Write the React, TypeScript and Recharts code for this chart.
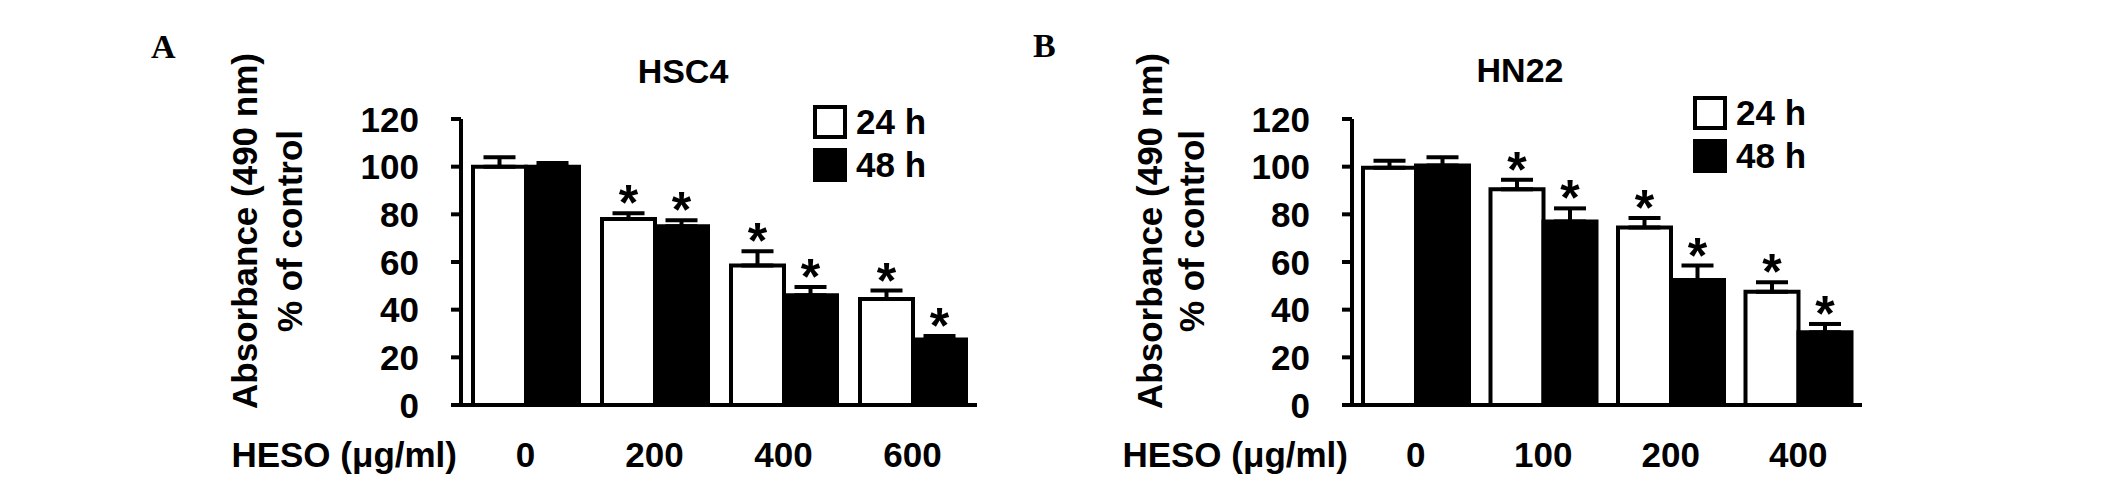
import React from 'react';
import { BarChart, Bar, XAxis, YAxis, ErrorBar, LabelList, Legend } from 'recharts';

const FONT = '"Liberation Sans", Arial, sans-serif';
const SERIF = '"Liberation Serif", "Times New Roman", serif';

// shared y axis ticks
const yTicks = [0, 20, 40, 60, 80, 100, 120];

// Panel A: HSC4
const hsc4Doses = ['0', '200', '400', '600'];
const hsc4H24 = [100, 78, 58.5, 44.5];
const hsc4H24Err = [4, 2.5, 6, 3.5];
const hsc4H48 = [100, 75, 46, 27.5];
const hsc4H48Err = [1.5, 2.5, 3.5, 1.5];
const hsc4Sig24 = [false, true, true, true];
const hsc4Sig48 = [false, true, true, true];

// Panel B: HN22
const hn22Doses = ['0', '100', '200', '400'];
const hn22H24 = [99.5, 90.5, 74.5, 47.5];
const hn22H24Err = [3, 4, 4, 4];
const hn22H48 = [100.5, 77, 52.5, 30.5];
const hn22H48Err = [3.5, 5.5, 6, 3.5];
const hn22Sig24 = [false, true, true, true];
const hn22Sig48 = [false, true, true, true];

const seriesNames = ['24 h', '48 h'];

function buildRows(doses: string[], h24: number[], e24: number[], h48: number[], e48: number[]) {
  return doses.map((d, i) => ({
    dose: d,
    h24: h24[i],
    e24: [0, e24[i]],
    h48: h48[i],
    e48: [0, e48[i]],
  }));
}

const rowsA = buildRows(hsc4Doses, hsc4H24, hsc4H24Err, hsc4H48, hsc4H48Err);
const rowsB = buildRows(hn22Doses, hn22H24, hn22H24Err, hn22H48, hn22H48Err);

const makeStar = (errs: number[], sig: boolean[]) => (props: any) => {
  const vb = props.viewBox || props;
  const x = Number(vb.x ?? props.x);
  const y = Number(vb.y ?? props.y);
  const width = Number(vb.width ?? props.width);
  const height = Number(vb.height ?? props.height);
  const index = props.index;
  const value = Number(props.value);
  if (!sig[index] || !value) return null;
  const ppu = Math.abs(height) / value;
  const top = Math.min(y, y + height) - errs[index] * ppu;
  return (
    <text
      x={x + width / 2}
      y={top + 7}
      textAnchor="middle"
      fontFamily={FONT}
      fontWeight="bold"
      fontSize={50}
      fill="#000"
    >
      *
    </text>
  );
};

const YTick = (p: any) => (
  <text
    x={Number(p.x) - 32}
    y={Number(p.y) + 12.5}
    textAnchor="end"
    fontFamily={FONT}
    fontWeight="bold"
    fontSize={35}
    fill="#000"
  >
    {p.payload.value}
  </text>
);

const XTick = (p: any) => (
  <text
    x={Number(p.x)}
    y={Number(p.y) + 62}
    textAnchor="middle"
    fontFamily={FONT}
    fontWeight="bold"
    fontSize={35}
    fill="#000"
  >
    {p.payload.value}
  </text>
);

const renderLegend = (props: any) => {
  const payload = props.payload || [];
  return (
    <div style={{ fontFamily: FONT, fontWeight: 'bold', fontSize: 35, color: '#000' }}>
      {payload.map((it: any) => (
        <div key={it.value} style={{ display: 'flex', alignItems: 'center', height: 43 }}>
          <div
            style={{
              width: 34,
              height: 34,
              boxSizing: 'border-box',
              border: '4px solid #000',
              background: it.color,
            }}
          />
          <span style={{ marginLeft: 9, lineHeight: '43px' }}>{it.value}</span>
        </div>
      ))}
    </div>
  );
};

type PanelProps = {
  rows: any[];
  width: number;
  margin: { top: number; right: number; bottom: number; left: number };
  e24: number[];
  e48: number[];
  s24: boolean[];
  s48: boolean[];
  legendPos: { left: number; top: number };
};

const Panel = ({ rows, width, margin, e24, e48, s24, s48, legendPos }: PanelProps) => (
  <BarChart width={width} height={503} data={rows} margin={margin} barGap={0} barSize={53}>
    <XAxis
      dataKey="dose"
      height={60}
      tickSize={0}
      tickMargin={0}
      tickLine={false}
      axisLine={{ stroke: '#000', strokeWidth: 4 }}
      tick={<XTick />}
      interval={0}
    />
    <YAxis
      width={100}
      domain={[0, 120]}
      ticks={yTicks}
      interval={0}
      tickSize={10}
      tickMargin={0}
      axisLine={{ stroke: '#000', strokeWidth: 4 }}
      tickLine={{ stroke: '#000', strokeWidth: 4 }}
      tick={<YTick />}
    />
    <Legend
      layout="vertical"
      align="center"
      verticalAlign="middle"
      wrapperStyle={{ left: legendPos.left, top: legendPos.top, width: 'auto', height: 'auto' }}
      content={renderLegend}
    />
    <Bar dataKey="h24" name={seriesNames[0]} fill="#ffffff" stroke="#000" strokeWidth={4} isAnimationActive={false}>
      <ErrorBar dataKey="e24" width={16} strokeWidth={4} stroke="#000" direction="y" isAnimationActive={false} />
      <LabelList dataKey="h24" content={makeStar(e24, s24)} />
    </Bar>
    <Bar dataKey="h48" name={seriesNames[1]} fill="#000000" stroke="#000" strokeWidth={4} isAnimationActive={false}>
      <ErrorBar dataKey="e48" width={16} strokeWidth={4} stroke="#000" direction="y" isAnimationActive={false} />
      <LabelList dataKey="h48" content={makeStar(e48, s48)} />
    </Bar>
  </BarChart>
);

const textBold = { fontFamily: FONT, fontWeight: 'bold' as const, fill: '#000' };

export default function App() {
  return (
    <div style={{ position: 'absolute', left: 0, top: 0, width: 2126, height: 503, background: '#fff', overflow: 'hidden' }}>
      <div style={{ position: 'absolute', left: 0, top: 0 }}>
        <Panel
          rows={rowsA}
          width={1000}
          margin={{ top: 119, right: 23, bottom: 38, left: 361 }}
          e24={hsc4H24Err}
          e48={hsc4H48Err}
          s24={hsc4Sig24}
          s48={hsc4Sig48}
          legendPos={{ left: 813, top: 100 }}
        />
      </div>
      <div style={{ position: 'absolute', left: 1000, top: 0 }}>
        <Panel
          rows={rowsB}
          width={1126}
          margin={{ top: 119, right: 264, bottom: 38, left: 252 }}
          e24={hn22H24Err}
          e48={hn22H48Err}
          s24={hn22Sig24}
          s48={hn22Sig48}
          legendPos={{ left: 693, top: 91 }}
        />
      </div>
      <svg
        width={2126}
        height={503}
        style={{ position: 'absolute', left: 0, top: 0, pointerEvents: 'none' }}
      >
        <text x={151} y={58} fontFamily={SERIF} fontWeight="bold" fontSize={34} fill="#000">A</text>
        <text x={1033} y={57} fontFamily={SERIF} fontWeight="bold" fontSize={34} fill="#000">B</text>

        <text x={683} y={83} textAnchor="middle" fontSize={34} {...textBold}>HSC4</text>
        <text x={1520} y={82} textAnchor="middle" fontSize={34} {...textBold}>HN22</text>

        <text x={257} y={231} transform="rotate(-90 257 231)" textAnchor="middle" fontSize={35} {...textBold}>Absorbance (490 nm)</text>
        <text x={302} y={231} transform="rotate(-90 302 231)" textAnchor="middle" fontSize={35} {...textBold}>% of control</text>
        <text x={1162} y={231} transform="rotate(-90 1162 231)" textAnchor="middle" fontSize={35} {...textBold}>Absorbance (490 nm)</text>
        <text x={1204} y={231} transform="rotate(-90 1204 231)" textAnchor="middle" fontSize={35} {...textBold}>% of control</text>

        <text x={457} y={467} textAnchor="end" fontSize={35} {...textBold}>HESO (μg/ml)</text>
        <text x={1348} y={467} textAnchor="end" fontSize={35} {...textBold}>HESO (μg/ml)</text>
      </svg>
    </div>
  );
}
